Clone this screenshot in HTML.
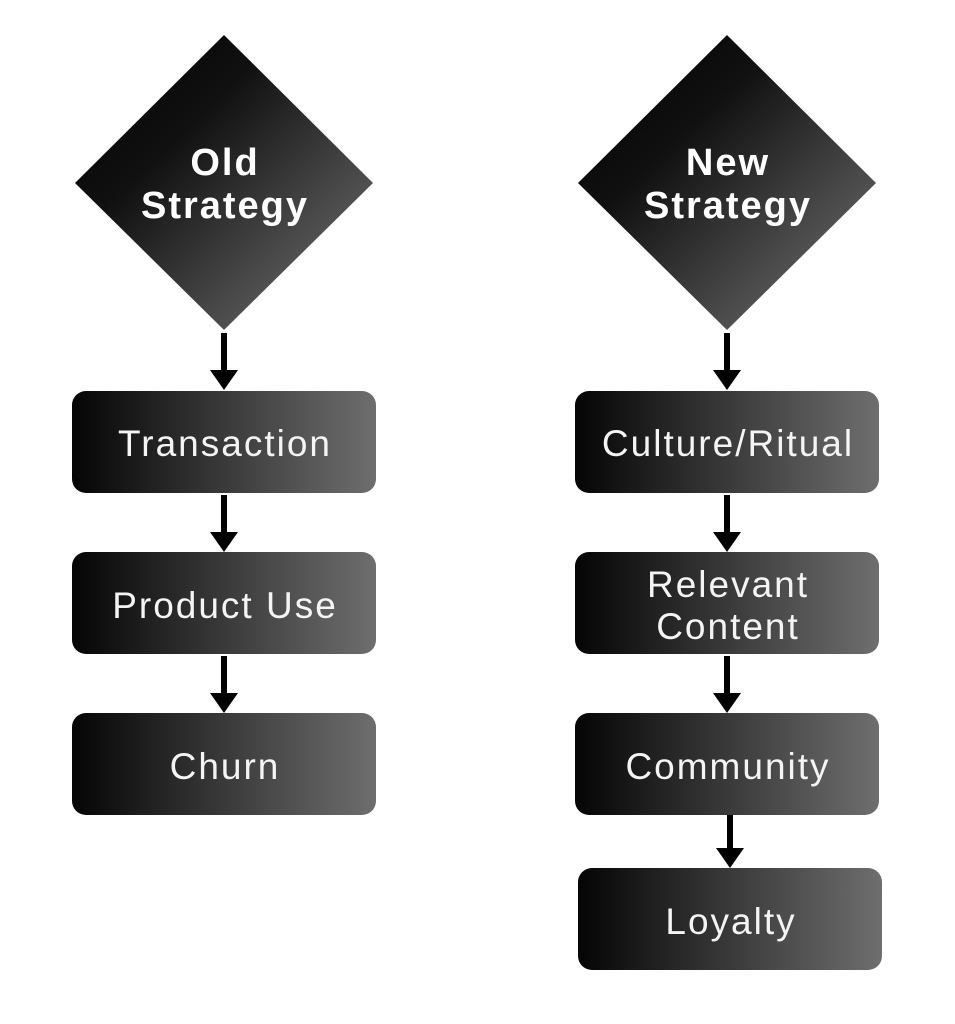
<!DOCTYPE html>
<html><head><style>
html,body{margin:0;padding:0;background:#fff;}
svg{display:block;}
text{font-family:"Liberation Sans",sans-serif;}
</style></head><body>
<svg width="955" height="1024" viewBox="0 0 955 1024" xmlns="http://www.w3.org/2000/svg">
<defs>
<linearGradient id="bx" x1="0" y1="0" x2="1" y2="0">
<stop offset="0" stop-color="#050505"/><stop offset="1" stop-color="#6e6e6e"/>
</linearGradient>
<linearGradient id="dm" x1="0" y1="0" x2="1" y2="1">
<stop offset="0" stop-color="#000"/><stop offset="0.35" stop-color="#111"/><stop offset="1" stop-color="#777"/>
</linearGradient>
<g id="arr"><rect x="-3" y="0" width="6" height="40" fill="#000"/><polygon points="-14,37 14,37 0,57" fill="#000"/></g>
</defs>
<polygon points="224,35 373,183 224,330 75,183" fill="url(#dm)"/>
<polygon points="727,35 876,183 727,330 578,183" fill="url(#dm)"/>
<g fill="#fff" font-weight="bold" font-size="38" letter-spacing="2" text-anchor="middle">
<text x="225" y="175">Old</text><text x="225" y="218">Strategy</text>
<text x="728" y="175">New</text><text x="728" y="218">Strategy</text>
</g>
<use href="#arr" x="224" y="333"/><use href="#arr" x="224" y="495"/><use href="#arr" x="224" y="656"/>
<use href="#arr" x="727" y="333"/><use href="#arr" x="727" y="495"/><use href="#arr" x="727" y="656"/>
<use href="#arr" x="730" y="811"/>
<rect x="72" y="391" width="304" height="102" rx="14" fill="url(#bx)"/>
<rect x="72" y="552" width="304" height="102" rx="14" fill="url(#bx)"/>
<rect x="72" y="713" width="304" height="102" rx="14" fill="url(#bx)"/>
<rect x="575" y="391" width="304" height="102" rx="14" fill="url(#bx)"/>
<rect x="575" y="552" width="304" height="102" rx="14" fill="url(#bx)"/>
<rect x="575" y="713" width="304" height="102" rx="14" fill="url(#bx)"/>
<rect x="578" y="868" width="304" height="102" rx="14" fill="url(#bx)"/>
<g fill="#f4f4f4" font-size="37" letter-spacing="2" text-anchor="middle">
<text x="225" y="456">Transaction</text>
<text x="225" y="618">Product Use</text>
<text x="225" y="779">Churn</text>
<text x="728" y="456">Culture/Ritual</text>
<text x="728" y="597">Relevant</text>
<text x="728" y="639">Content</text>
<text x="728" y="779">Community</text>
<text x="731" y="934">Loyalty</text>
</g>
</svg>
</body></html>
